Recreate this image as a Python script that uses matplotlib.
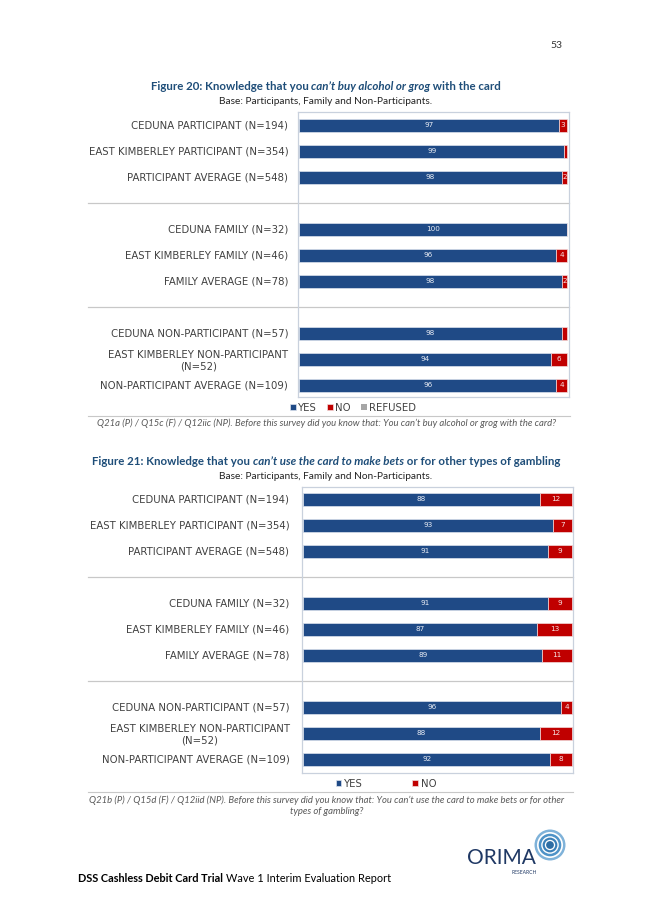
import matplotlib
matplotlib.use("Agg")
import matplotlib.pyplot as plt
from matplotlib.lines import Line2D
from matplotlib.patches import Circle
import matplotlib.transforms as mtransforms

W, H = 653, 923
fig = plt.figure(figsize=(W / 100, H / 100), dpi=100)

# ---------------- data ----------------
categories = ["CEDUNA PARTICIPANT (N=194)", "EAST KIMBERLEY PARTICIPANT (N=354)",
              "PARTICIPANT AVERAGE (N=548)",
              "CEDUNA FAMILY (N=32)", "EAST KIMBERLEY FAMILY (N=46)", "FAMILY AVERAGE (N=78)",
              "CEDUNA NON-PARTICIPANT (N=57)", "EAST KIMBERLEY NON-PARTICIPANT\n(N=52)",
              "NON-PARTICIPANT AVERAGE (N=109)"]
groups = [3, 3, 3]

yes_alcohol = [97, 99, 98, 100, 96, 98, 98, 94, 96]
no_alcohol = [3, 1, 2, 0, 4, 2, 2, 6, 4]
refused_alcohol = [0, 0, 0, 0, 0, 0, 0, 0, 0]
no_alcohol_labels = ["3", "", "2", "", "4", "2", "", "6", "4"]

yes_gambling = [88, 93, 91, 91, 87, 89, 96, 88, 92]
no_gambling = [12, 7, 9, 9, 13, 11, 4, 12, 8]

legend_alcohol = ["YES", "NO", "REFUSED"]
legend_gambling = ["YES", "NO"]

title20 = [("Figure 20: Knowledge that you ", "normal"),
           ("can\u2019t buy alcohol or grog", "italic"),
           (" with the card", "normal")]
title21 = [("Figure 21: Knowledge that you ", "normal"),
           ("can\u2019t use the card to make bets", "italic"),
           (" or for other types of gambling", "normal")]
subtitle = "Base: Participants, Family and Non-Participants."
note20 = ("Q21a (P) / Q15c (F) / Q12iic (NP). Before this survey did you know that: "
          "You can\u2019t buy alcohol or grog with the card?")
note21 = ("Q21b (P) / Q15d (F) / Q12iid (NP). Before this survey did you know that: "
          "You can\u2019t use the card to make bets or for other\ntypes of gambling?")

# ---------------- styles ----------------
BLUE = "#1F4A86"
RED = "#C00000"
GREY_REF = "#A6A6A6"
TITLE_C = "#1F4E79"
LABEL_C = "#404040"
LINE_C = "#C8C8C8"
SPINE_C = "#C9D1DD"
TXT_FONT = "Lato"
LBL_FONT = "DejaVu Sans"


def fx(px):
    return px / W


def fy(py):
    return 1 - py / H


# slot positions with an empty slot between groups
positions = []
sep_positions = []
s = 0
for gi, g in enumerate(groups):
    for _ in range(g):
        positions.append(s)
        s += 1
    if gi < len(groups) - 1:
        sep_positions.append(s)
        s += 1
n_slots = s


def rich_center(xc, yc, parts, **kw):
    renderer = fig.canvas.get_renderer()
    texts = [fig.text(0, 0, p, fontstyle=st, va="center", ha="left", **kw) for p, st in parts]
    widths = [t.get_window_extent(renderer).width for t in texts]
    x = xc - sum(widths) / 2
    for t, w in zip(texts, widths):
        t.set_position((fx(x), fy(yc)))
        x += w


def draw_chart(box, bar_x0, bar_x100, slot0_y, slot_step, yes, no, no_labels,
               refused, leg_labels, leg_center, leg_colspace, label_pad, sep_left):
    left, top, right, bottom = box
    ax = fig.add_axes([fx(left), fy(bottom), fx(right) - fx(left), fy(top) - fy(bottom)])
    scale = (bar_x100 - bar_x0) / 100.0
    ax.set_xlim((left - bar_x0) / scale, (right - bar_x0) / scale)
    ax.set_ylim((bottom - slot0_y) / slot_step, (top - slot0_y) / slot_step)
    h = 0.5
    b1 = ax.barh(positions, yes, height=h, color=BLUE, edgecolor="#DCE3EE", linewidth=0.5,
                 label=leg_labels[0])
    b2 = ax.barh(positions, no, left=yes, height=h, color=RED, edgecolor="#F2DCDC",
                 linewidth=0.5, label=leg_labels[1])
    handles = [b1, b2]
    if refused is not None:
        lefts = [a + b for a, b in zip(yes, no)]
        b3 = ax.barh(positions, refused, left=lefts, height=h, color=GREY_REF,
                     linewidth=0, label=leg_labels[2])
        handles.append(b3)
    ax.bar_label(b1, labels=[str(v) for v in yes], label_type="center",
                 color="#E8ECF4", fontsize=5.2, family=LBL_FONT)
    ax.bar_label(b2, labels=no_labels, label_type="center",
                 color="#F6E6E6", fontsize=5.2, family=LBL_FONT)
    ax.set_yticks(positions)
    ax.set_yticklabels(categories, family=LBL_FONT, fontsize=7.3, color=LABEL_C)
    for t in ax.get_yticklabels():
        t.set_multialignment("center")
    ax.tick_params(axis="y", length=0, pad=label_pad)
    ax.set_xticks([])
    for sp in ax.spines.values():
        sp.set_color(SPINE_C)
        sp.set_linewidth(0.9)
    trans = mtransforms.blended_transform_factory(ax.transAxes, ax.transData)
    xl = (sep_left - left) / (right - left)
    for sp_y in sep_positions:
        ax.add_line(Line2D([xl, 1], [sp_y, sp_y], transform=trans, color=LINE_C,
                           lw=0.9, clip_on=False))
    leg = fig.legend(handles=handles, labels=leg_labels, loc="center",
                     bbox_to_anchor=(fx(leg_center[0]), fy(leg_center[1])), ncol=len(handles),
                     frameon=False, handlelength=0.55, handleheight=0.55, handletextpad=0.25,
                     columnspacing=leg_colspace, prop={"family": LBL_FONT, "size": 7.3})
    for t in leg.get_texts():
        t.set_color(LABEL_C)
    return ax


# ---------------- page header ----------------
fig.text(fx(562), fy(45), "53", ha="right", va="center", family=TXT_FONT, fontsize=7.5,
         color="#333333")

# ---------------- figure 20 ----------------
rich_center(326, 86, title20, family=TXT_FONT, fontsize=8.3, fontweight="bold", color=TITLE_C)
fig.text(fx(326), fy(101), subtitle, ha="center", va="center", family=TXT_FONT,
         fontsize=7.3, color="#222222")
draw_chart(box=(298, 112, 569, 397), bar_x0=299, bar_x100=567, slot0_y=125, slot_step=26,
           yes=yes_alcohol, no=no_alcohol, no_labels=no_alcohol_labels,
           refused=refused_alcohol, leg_labels=legend_alcohol, leg_center=(353, 408),
           leg_colspace=1.0, label_pad=7, sep_left=88)
fig.add_artist(Line2D([fx(88), fx(570)], [fy(416), fy(416)], color=LINE_C, lw=0.8))
fig.text(fx(327), fy(423), note20, ha="center", va="center", family=TXT_FONT,
         fontsize=6.8, fontstyle="italic", color="#595959")

# ---------------- figure 21 ----------------
rich_center(326, 462, title21, family=TXT_FONT, fontsize=8.3, fontweight="bold", color=TITLE_C)
fig.text(fx(326), fy(476), subtitle, ha="center", va="center", family=TXT_FONT,
         fontsize=7.3, color="#222222")
draw_chart(box=(302, 487, 573, 773), bar_x0=303, bar_x100=572, slot0_y=499, slot_step=26,
           yes=yes_gambling, no=no_gambling, no_labels=[str(v) for v in no_gambling],
           refused=None, leg_labels=legend_gambling, leg_center=(386, 784),
           leg_colspace=4.9, label_pad=9, sep_left=88)
fig.add_artist(Line2D([fx(88), fx(573)], [fy(792), fy(792)], color=LINE_C, lw=0.8))
fig.text(fx(327), fy(806), note21, ha="center", va="center", family=TXT_FONT,
         fontsize=6.8, fontstyle="italic", color="#595959", linespacing=1.35)

# ---------------- footer ----------------
renderer = fig.canvas.get_renderer()
t1 = fig.text(fx(78), fy(878), "DSS Cashless Debit Card Trial ", ha="left", va="center",
              family=TXT_FONT, fontsize=7.95, fontweight="bold", color="#000000")
w1 = t1.get_window_extent(renderer).width
fig.text(fx(78 + w1), fy(878), "Wave 1 Interim Evaluation Report", ha="left", va="center",
         family=TXT_FONT, fontsize=7.95, color="#000000")

fig.text(fx(501), fy(858), "ORIMA", ha="center", va="center", family=TXT_FONT,
         fontsize=15, color="#1F3864")
fig.text(fx(524), fy(872), "RESEARCH", ha="center", va="center", family=TXT_FONT,
         fontsize=3.6, color="#1F3864")
cx, cy = 5.50, (H - 845) / 100
for r, c in [(0.155, "#7FB2D9"), (0.130, "white"), (0.113, "#4F93C8"), (0.088, "white"),
             (0.074, "#3A7FB8"), (0.052, "white"), (0.039, "#2E6DA4")]:
    fig.add_artist(Circle((cx, cy), r, transform=fig.dpi_scale_trans, color=c, lw=0))

fig.savefig("out.png", dpi=100, facecolor="white")
